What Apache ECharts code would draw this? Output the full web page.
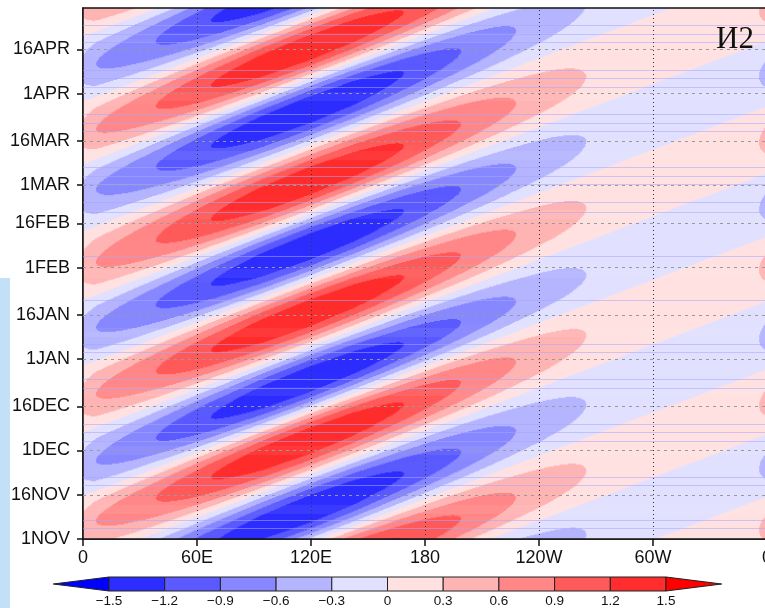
<!DOCTYPE html>
<html>
<head>
<meta charset="utf-8">
<script src="https://cdn.jsdelivr.net/npm/echarts@6/dist/echarts.min.js"></script>
<style>
  html, body { margin: 0; padding: 0; background: #ffffff; overflow: hidden; }
  #chart { width: 800px; height: 608px; }
</style>
</head>
<body>
<div id="chart"></div>
<script>
// Time axis: days counted from 1 November
const dayTicks  = [0, 15, 30, 45, 61, 76, 92, 107, 120, 135, 151, 166];
const dayLabels = ['1NOV', '16NOV', '1DEC', '16DEC', '1JAN', '16JAN', '1FEB', '16FEB', '1MAR', '16MAR', '1APR', '16APR'];

// Longitude axis
const lonTicks  = [0, 60, 120, 180, 240, 300, 360];
const lonLabels = ['0', '60E', '120E', '180', '120W', '60W', '0'];

// Shading levels and their colours
const contourLevels = [-1.5, -1.2, -0.9, -0.6, -0.3, 0, 0.3, 0.6, 0.9, 1.2, 1.5];
const levelColors = ['#0000ff', '#2d2dff', '#5a5aff', '#8787ff', '#b4b4ff', '#e1e1ff',
                     '#ffe1e1', '#ffb4b4', '#ff8787', '#ff5a5a', '#ff2d2d', '#ff0000'];
const colorbarLabels = ['\u22121.5', '\u22121.2', '\u22120.9', '\u22120.6', '\u22120.3', '0',
                        '0.3', '0.6', '0.9', '1.2', '1.5'];

// Eastward-moving crests: day each crest passes 0 longitude and its sign
const crestDayAt0 = [-105.9, -83.8, -63, -41.5, -19, 4.6, 24.9, 47.6, 70.1, 92.1, 116.9, 137.4, 159.4, 181.5, 203.6];
const crestSign   = [-1, 1, -1, 1, -1, 1, -1, 1, -1, 1, -1, 1, -1, 1, -1];
// Travel time of a crest: days per degree of longitude
const crestDelay = 0.244;

// Crest amplitude along longitude
const envelopeLon = [0, 7, 38.6, 67.6, 95, 118, 142, 169, 199, 228, 265, 300, 330, 356, 360];
const envelopeAmp = [0.38, 0.6, 0.9, 1.2, 1.42, 1.49, 1.42, 1.2, 0.9, 0.6, 0.3, 0.18, 0.2, 0.3, 0.38];

// Faint horizontal rules running across the panel (days)
const faintRuleDays = [174.0, 171.0, 168.3, 158.8, 156.1, 153.0, 143.9, 140.8, 138.1, 125.9, 122.9, 120.1,
                       114.0, 110.6, 95.7, 81.1, 65.9, 63.2, 54.0, 51.0, 38.8, 36.1, 33.0, 21.1, 18.1, 6.5, 3.8];

function envelopeAt(lon) {
  for (let i = 0; i < envelopeLon.length - 1; i++) {
    if (lon <= envelopeLon[i + 1]) {
      const f = (lon - envelopeLon[i]) / (envelopeLon[i + 1] - envelopeLon[i]);
      return envelopeAmp[i] + f * (envelopeAmp[i + 1] - envelopeAmp[i]);
    }
  }
  return envelopeAmp[envelopeAmp.length - 1];
}

// Value at a longitude and day: crest amplitude times the phase between neighbouring crests
function fieldAt(lon, day) {
  const tau = day - crestDelay * lon;
  let i = 0;
  while (i < crestDayAt0.length - 2 && tau > crestDayAt0[i + 1]) i++;
  const t0 = crestDayAt0[i], t1 = crestDayAt0[i + 1];
  return crestSign[i] * envelopeAt(lon) * Math.cos(Math.PI * (tau - t0) / (t1 - t0));
}

function levelIndex(v) {
  let k = 0;
  while (k < contourLevels.length && v >= contourLevels[k]) k++;
  return k;
}

// Shaded field as horizontal runs of equal colour: [lon0, lon1, day0, day1, colourIndex]
const lonStep = 0.5, dayStep = 1 / 3;
const fieldRuns = [];
const nRows = Math.round(180 / dayStep);
const nCols = Math.round(360 / lonStep);
for (let k = 0; k < nRows; k++) {
  const d0 = k * dayStep, d1 = (k + 1) * dayStep, dc = (d0 + d1) / 2;
  let start = 0;
  let cur = levelIndex(fieldAt(lonStep / 2, dc));
  for (let j = 1; j < nCols; j++) {
    const idx = levelIndex(fieldAt((j + 0.5) * lonStep, dc));
    if (idx !== cur) {
      fieldRuns.push([start, j * lonStep, d0, d1, cur]);
      start = j * lonStep;
      cur = idx;
    }
  }
  fieldRuns.push([start, 360, d0, d1, cur]);
}

// Colour bar pieces: [low, high, colourIndex]; the two ends are arrows
const barPieces = [];
for (let i = 0; i <= contourLevels.length; i++) {
  const lo = i === 0 ? contourLevels[0] - 0.3 : contourLevels[i - 1];
  const hi = i === contourLevels.length ? contourLevels[contourLevels.length - 1] + 0.3 : contourLevels[i];
  barPieces.push([lo, hi, i]);
}

const labelFont = 'Liberation Sans, Arial, Helvetica, sans-serif';

const guideLines = lonTicks.slice(1, -1).map(function (v) {
  return { xAxis: v, lineStyle: { color: '#333', width: 1, type: [1, 3] } };
}).concat(dayTicks.slice(1).map(function (v) {
  return { yAxis: v, lineStyle: { color: '#9a9a9a', width: 1, type: [3, 4] } };
}));

const chart = echarts.init(document.getElementById('chart'), null, { renderer: 'canvas' });

chart.setOption({
  animation: false,
  backgroundColor: '#ffffff',
  grid: [
    { left: 83, top: 8, width: 684, height: 531, show: true, borderColor: '#111', borderWidth: 1.5, backgroundColor: 'transparent', z: 5 },
    { left: 53.3, top: 577, width: 668.4, height: 15.3 }
  ],
  xAxis: [
    {
      gridIndex: 0, type: 'value', min: 0, max: 360, interval: 60,
      axisLine: { show: true, onZero: false, lineStyle: { color: '#111', width: 1.5 } },
      axisTick: { show: true, length: 7, lineStyle: { color: '#111', width: 1.5 } },
      splitLine: { show: false },
      axisLabel: {
        show: true, margin: 10, color: '#111', fontSize: 18, fontFamily: labelFont,
        showMinLabel: true, showMaxLabel: true,
        formatter: function (v) { const i = lonTicks.indexOf(Math.round(v)); return i < 0 ? '' : lonLabels[i]; }
      }
    },
    {
      gridIndex: 1, type: 'value', min: -1.8, max: 1.8, interval: 0.3,
      axisLine: { show: false }, axisTick: { show: false }, splitLine: { show: false },
      axisLabel: {
        show: true, margin: 3, color: '#111', fontSize: 13.5, fontFamily: labelFont,
        showMinLabel: true, showMaxLabel: true,
        formatter: function (v) {
          for (let i = 0; i < contourLevels.length; i++) {
            if (Math.abs(v - contourLevels[i]) < 1e-6) return colorbarLabels[i];
          }
          return '';
        }
      }
    }
  ],
  yAxis: [
    {
      gridIndex: 0, type: 'value', min: 0, max: 180,
      axisLine: { show: true, onZero: false, lineStyle: { color: '#111', width: 1.5 } },
      axisTick: { show: true, length: 6, customValues: dayTicks, lineStyle: { color: '#111', width: 1.5 } },
      splitLine: { show: false },
      axisLabel: {
        show: true, margin: 13, color: '#111', fontSize: 18, fontFamily: labelFont,
        customValues: dayTicks,
        formatter: function (v) { const i = dayTicks.indexOf(Math.round(v)); return i < 0 ? '' : dayLabels[i]; }
      }
    },
    { gridIndex: 1, type: 'value', min: 0, max: 1, show: false }
  ],
  series: [
    {
      type: 'custom',
      name: 'field',
      xAxisIndex: 0, yAxisIndex: 0,
      coordinateSystem: 'cartesian2d',
      clip: true,
      silent: true,
      progressive: 0,
      dimensions: ['lon0', 'lon1', 'day0', 'day1', 'level'],
      encode: { x: [0, 1], y: [2, 3] },
      data: fieldRuns,
      renderItem: function (params, api) {
        const pA = api.coord([api.value(0), api.value(3)]);
        const pB = api.coord([api.value(1), api.value(2)]);
        return {
          type: 'rect',
          shape: { x: pA[0] - 0.3, y: pA[1] - 0.3, width: pB[0] - pA[0] + 0.6, height: pB[1] - pA[1] + 0.6 },
          style: { fill: levelColors[api.value(4)] }
        };
      },
      z: 1
    },
    {
      type: 'line',
      name: 'rules',
      xAxisIndex: 0, yAxisIndex: 0,
      data: [],
      silent: true,
      z: 2,
      markLine: {
        silent: true,
        symbol: ['none', 'none'],
        label: { show: false },
        animation: false,
        lineStyle: { color: 'rgba(165,165,255,0.55)', width: 1, type: 'solid' },
        data: faintRuleDays.map(function (d) { return { yAxis: d }; })
      }
    },
    {
      type: 'line',
      name: 'guides',
      xAxisIndex: 0, yAxisIndex: 0,
      data: [],
      silent: true,
      z: 3,
      markLine: {
        silent: true,
        symbol: ['none', 'none'],
        label: { show: false },
        animation: false,
        data: guideLines
      }
    },
    {
      type: 'custom',
      name: 'colorbar',
      xAxisIndex: 1, yAxisIndex: 1,
      coordinateSystem: 'cartesian2d',
      silent: true,
      data: barPieces,
      renderItem: function (params, api) {
        const lo = api.value(0), hi = api.value(1), idx = api.value(2);
        const style = { fill: levelColors[idx], stroke: '#222', lineWidth: 1 };
        if (idx === 0) {
          const tip = api.coord([lo, 0.5]), b0 = api.coord([hi, 0]), b1 = api.coord([hi, 1]);
          return { type: 'polygon', shape: { points: [tip, b0, b1] }, style: style };
        }
        if (idx === contourLevels.length) {
          const tip = api.coord([hi, 0.5]), b0 = api.coord([lo, 0]), b1 = api.coord([lo, 1]);
          return { type: 'polygon', shape: { points: [tip, b0, b1] }, style: style };
        }
        const a = api.coord([lo, 1]), b = api.coord([hi, 0]);
        return { type: 'rect', shape: { x: a[0], y: a[1], width: b[0] - a[0], height: b[1] - a[1] }, style: style };
      }
    }
  ],
  graphic: [
    {
      type: 'text', left: 716, top: 24, z: 10,
      style: { text: '\u04182', font: '31px "Liberation Serif", "Times New Roman", serif', fill: '#111' }
    },
    {
      type: 'rect', shape: { x: 0, y: 278, width: 10, height: 330 }, z: 0,
      style: { fill: '#c2e0f7' }
    }
  ]
});
</script>
</body>
</html>
